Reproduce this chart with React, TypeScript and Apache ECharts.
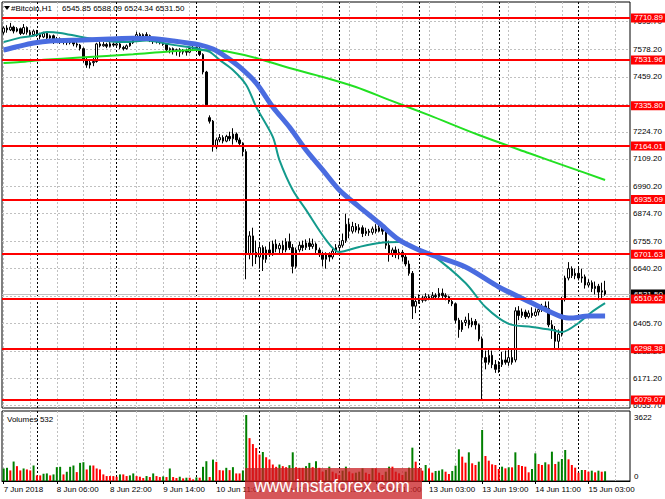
import { useEffect, useRef } from "react";
import * as echarts from "echarts";

// H1 Bitcoin chart in MT4 style: candles + 3 MAs, horizontal levels, volume pane.

const FONT = '"Liberation Sans", Arial, sans-serif';
const FS = 8;

// x labels, one every 16 bars from bar 0
const TICK_LABELS = [
  "7 Jun 2018", "8 Jun 06:00", "8 Jun 22:00", "9 Jun 14:00", "10 Jun 11:00", "11 Jun 03:00",
  "11 Jun 19:00", "12 Jun 11:00", "13 Jun 03:00", "13 Jun 19:00", "14 Jun 11:00", "15 Jun 03:00",
];
const LABEL_STEP = 16;
// bar indexes where a new day starts (black dotted separators)
const DAY_STARTS = [10, 34, 58, 77, 101, 125, 149, 173];
const SLOTS = 189; // bars incl. the empty shift on the right

// [open, close, low, high]
const CANDLES: number[][] = [
  [7650, 7668, 7640, 7675], [7668, 7660, 7648, 7680], [7660, 7672, 7655, 7690], [7672, 7655, 7645, 7678],
  [7655, 7665, 7650, 7672], [7665, 7645, 7638, 7670], [7645, 7670, 7640, 7685], [7670, 7650, 7640, 7675],
  [7650, 7640, 7630, 7660], [7640, 7655, 7635, 7662], [7655, 7640, 7630, 7660], [7640, 7630, 7620, 7648],
  [7630, 7645, 7625, 7652], [7645, 7625, 7615, 7650], [7625, 7635, 7605, 7640], [7635, 7615, 7600, 7640],
  [7615, 7622, 7605, 7630], [7622, 7610, 7600, 7628], [7610, 7618, 7598, 7625], [7618, 7605, 7595, 7622],
  [7605, 7612, 7598, 7620], [7612, 7600, 7590, 7618], [7600, 7595, 7585, 7608], [7595, 7580, 7572, 7600],
  [7580, 7530, 7520, 7585], [7530, 7510, 7498, 7545], [7510, 7520, 7495, 7528], [7520, 7525, 7505, 7540],
  [7525, 7600, 7520, 7605], [7600, 7592, 7585, 7612], [7592, 7598, 7588, 7608], [7598, 7590, 7582, 7605],
  [7590, 7600, 7585, 7608], [7600, 7595, 7588, 7606], [7595, 7600, 7590, 7606], [7600, 7585, 7578, 7605],
  [7585, 7580, 7572, 7592], [7580, 7592, 7576, 7598], [7592, 7605, 7588, 7612], [7605, 7625, 7600, 7632],
  [7625, 7640, 7618, 7652], [7640, 7632, 7625, 7648], [7632, 7640, 7628, 7645], [7640, 7635, 7625, 7650],
  [7635, 7615, 7608, 7640], [7615, 7610, 7600, 7620], [7610, 7612, 7602, 7618], [7612, 7605, 7598, 7616],
  [7605, 7598, 7592, 7610], [7598, 7575, 7568, 7602], [7575, 7580, 7560, 7585], [7580, 7570, 7555, 7585],
  [7570, 7575, 7550, 7580], [7575, 7565, 7545, 7582], [7565, 7572, 7555, 7578], [7572, 7565, 7550, 7580],
  [7565, 7580, 7560, 7588], [7580, 7585, 7575, 7595], [7585, 7578, 7570, 7592], [7578, 7555, 7548, 7590],
  [7555, 7480, 7470, 7560], [7480, 7340, 7335, 7485], [7285, 7270, 7260, 7295], [7270, 7160, 7140, 7275],
  [7160, 7190, 7150, 7200], [7190, 7200, 7180, 7215], [7200, 7185, 7175, 7210], [7185, 7205, 7180, 7212],
  [7205, 7195, 7185, 7225], [7195, 7215, 7170, 7240], [7215, 7190, 7180, 7222], [7190, 7175, 7160, 7200],
  [7175, 7140, 7120, 7180], [7140, 6700, 6595, 7150], [6700, 6780, 6680, 6800], [6780, 6710, 6650, 6815],
  [6710, 6690, 6660, 6760], [6690, 6730, 6640, 6745], [6730, 6680, 6630, 6740], [6680, 6720, 6665, 6735],
  [6720, 6700, 6690, 6755], [6700, 6745, 6695, 6760], [6745, 6725, 6710, 6765], [6725, 6740, 6705, 6750],
  [6740, 6720, 6700, 6760], [6720, 6755, 6710, 6770], [6755, 6730, 6720, 6790], [6730, 6650, 6620, 6745],
  [6650, 6720, 6640, 6730], [6720, 6740, 6710, 6755], [6740, 6730, 6715, 6760], [6730, 6750, 6720, 6765],
  [6750, 6735, 6720, 6770], [6735, 6745, 6725, 6768], [6745, 6720, 6705, 6752], [6720, 6700, 6690, 6730],
  [6700, 6680, 6650, 6712], [6680, 6700, 6640, 6710], [6700, 6690, 6670, 6710], [6690, 6715, 6680, 6725],
  [6715, 6730, 6705, 6745], [6730, 6740, 6720, 6760], [6740, 6760, 6730, 6790], [6760, 6830, 6750, 6875],
  [6830, 6800, 6770, 6855], [6800, 6820, 6790, 6840], [6820, 6805, 6795, 6835], [6805, 6815, 6790, 6830],
  [6815, 6790, 6775, 6825], [6790, 6800, 6780, 6815], [6800, 6795, 6780, 6810], [6795, 6810, 6785, 6820],
  [6810, 6800, 6790, 6830], [6800, 6815, 6795, 6835], [6815, 6800, 6785, 6822], [6800, 6740, 6725, 6805],
  [6740, 6700, 6670, 6760], [6700, 6720, 6690, 6730], [6720, 6700, 6685, 6735], [6700, 6710, 6680, 6725],
  [6710, 6690, 6670, 6720], [6690, 6660, 6650, 6700], [6660, 6620, 6610, 6675], [6620, 6480, 6425, 6630],
  [6480, 6500, 6450, 6520], [6500, 6515, 6490, 6530], [6515, 6505, 6495, 6525], [6505, 6520, 6500, 6535],
  [6520, 6515, 6505, 6530], [6515, 6525, 6510, 6540], [6525, 6520, 6510, 6535], [6520, 6535, 6515, 6557],
  [6535, 6525, 6510, 6555], [6525, 6520, 6505, 6535], [6520, 6500, 6490, 6525], [6500, 6490, 6480, 6510],
  [6490, 6420, 6405, 6495], [6420, 6380, 6345, 6430], [6380, 6410, 6370, 6420], [6410, 6420, 6395, 6435],
  [6420, 6400, 6385, 6450], [6400, 6415, 6390, 6430], [6415, 6400, 6380, 6425], [6400, 6340, 6330, 6405],
  [6340, 6260, 6080, 6350], [6260, 6240, 6210, 6290], [6240, 6270, 6230, 6300], [6270, 6230, 6215, 6290],
  [6230, 6210, 6195, 6250], [6210, 6230, 6195, 6245], [6230, 6250, 6220, 6285], [6250, 6240, 6230, 6290],
  [6240, 6260, 6225, 6305], [6260, 6240, 6230, 6300], [6250, 6460, 6240, 6475], [6460, 6440, 6420, 6480],
  [6440, 6455, 6430, 6470], [6455, 6435, 6425, 6465], [6435, 6450, 6428, 6462], [6450, 6440, 6430, 6475],
  [6440, 6455, 6435, 6470], [6455, 6465, 6440, 6480], [6465, 6480, 6455, 6490], [6480, 6470, 6455, 6500],
  [6470, 6400, 6390, 6500], [6400, 6380, 6340, 6420], [6380, 6330, 6300, 6395], [6330, 6360, 6292, 6380],
  [6360, 6510, 6350, 6520], [6510, 6600, 6500, 6610], [6600, 6640, 6590, 6668], [6640, 6610, 6600, 6650],
  [6610, 6620, 6595, 6640], [6620, 6600, 6590, 6650], [6600, 6605, 6580, 6640], [6605, 6570, 6555, 6615],
  [6570, 6580, 6560, 6595], [6580, 6555, 6540, 6590], [6555, 6565, 6530, 6585], [6565, 6540, 6505, 6575],
  [6540, 6545.85, 6515, 6580], [6545.85, 6531.5, 6524.34, 6588.09],
];

const VOLUMES = [
  688, 724, 580, 1068, 815, 580, 688, 634, 580, 851, 308, 308, 398, 416, 308, 362,
  760, 778, 362, 507, 778, 851, 489, 995, 1032, 634, 851, 851, 688, 634, 362, 272,
  272, 272, 235, 362, 362, 272, 308, 416, 272, 235, 163, 272, 217, 416, 272, 217,
  253, 217, 688, 217, 163, 235, 145, 181, 181, 90, 199, 181, 778, 1086, 217, 1177,
  1050, 597, 580, 724, 597, 760, 416, 416, 580, 3622, 2353, 2027, 1810, 1448, 1593, 1303,
  1177, 905, 778, 905, 815, 760, 869, 1575, 760, 724, 724, 815, 995, 760, 1086, 724,
  512, 604, 787, 512, 421, 329, 567, 787, 512, 421, 457, 512, 695, 457, 384, 695,
  695, 457, 329, 512, 787, 787, 512, 421, 329, 512, 732, 1830, 1061, 695, 567, 878,
  695, 457, 549, 567, 640, 512, 384, 549, 842, 1739, 1336, 1007, 1574, 970, 878, 1061,
  2800, 1373, 1116, 915, 878, 659, 787, 695, 750, 750, 1574, 878, 824, 787, 476, 659,
  1519, 933, 878, 1025, 915, 1610, 933, 1061, 1208, 1702, 1190, 878, 732, 457, 604, 604,
  512, 567, 476, 567, 510, 532,
];

// moving averages: [bar index, price]
const MA_TEAL = [
  [0, 7608], [5, 7627], [9, 7635], [13, 7651], [17, 7647], [23, 7631], [31, 7613], [37, 7608],
  [43, 7615], [51, 7596], [59, 7578], [62, 7566], [65, 7532], [69, 7489], [73, 7425], [76, 7331],
  [81, 7203], [83, 7104], [87, 6976], [91, 6891], [97, 6763], [101, 6711], [107, 6733], [113, 6750],
  [119, 6754], [125, 6720], [129, 6698], [139, 6579], [145, 6476], [152, 6404], [159, 6391],
  [165, 6378], [168, 6369], [173, 6408], [177, 6455], [181, 6493],
];
const MA_BLUE = [
  [0, 7574], [4, 7588], [9, 7604], [14, 7613], [24, 7617], [32, 7621], [39, 7624], [44, 7623],
  [51, 7613], [59, 7596], [63, 7578], [67, 7544], [71, 7502], [76, 7433], [81, 7331], [86, 7245],
  [91, 7147], [96, 7062], [101, 6976], [107, 6904], [113, 6835], [119, 6763], [125, 6720],
  [129, 6698], [139, 6647], [149, 6562], [159, 6493], [168, 6434], [171, 6429], [176, 6438], [181, 6438],
];
const MA_GREEN = [
  [0, 7519], [5, 7523], [12, 7532], [23, 7542], [39, 7556], [49, 7567], [58, 7574], [63, 7573],
  [68, 7566], [76, 7540], [86, 7497], [96, 7459], [106, 7416], [116, 7361], [128, 7296],
  [143, 7211], [158, 7134], [170, 7074], [181, 7019],
];

const LEVELS = [7710.89, 7531.96, 7335.8, 7164.01, 6935.09, 6701.63, 6510.62, 6298.38, 6079.07];
const PRICE_TICKS = [
  7695.7, 7578.2, 7459.2, 7341.2, 7224.7, 7109.2, 6990.2, 6874.7, 6755.7, 6640.2, 6521.7,
  6405.7, 6288.2, 6171.2, 6055.7,
];
const VOLUME_TOP = 3622;

const PRICE_MIN = 6044.8;
const PRICE_MAX = 7779.2;

export default function App() {
  const ref = useRef<HTMLDivElement | null>(null);

  useEffect(() => {
    document.body.style.margin = "0";
    if (!ref.current) return;
    const chart = echarts.init(ref.current, undefined, { renderer: "svg" });

    const cats = Array.from({ length: SLOTS }, (_, i) => String(i));
    const last = CANDLES[CANDLES.length - 1];
    const lastVol = VOLUMES[VOLUMES.length - 1];

    const dash = { color: "#c0c0c0", type: [2, 2] as number[], width: 1 };
    const sep = { color: "#000", type: [2, 2] as number[], width: 1 };
    const vGrid: object[] = [];
    for (let i = 0; i <= SLOTS - 4; i += 8) vGrid.push({ xAxis: i, lineStyle: dash, label: { show: false } });
    const vSep = DAY_STARTS.map((i) => ({ xAxis: i, lineStyle: sep, label: { show: false } }));

    const tickLabel = (v: number) => ({
      show: true,
      position: "end",
      distance: 3,
      formatter: () => v.toFixed(2),
      color: "#000",
      fontSize: FS,
      fontFamily: FONT,
    });

    const hGrid = PRICE_TICKS.map((v) => ({ yAxis: v, lineStyle: dash, label: tickLabel(v) }));
    const current = {
      yAxis: last[1],
      lineStyle: { color: "#c0c0c0", type: "solid", width: 1 },
      label: {
        ...tickLabel(last[1]),
        distance: 1,
        color: "#fff",
        backgroundColor: "#000",
        padding: [1, 3, 0, 3],
      },
    };
    const levels = LEVELS.map((v) => ({
      yAxis: v,
      lineStyle: { color: "#ff0000", type: "solid", width: 2 },
      label: {
        ...tickLabel(v),
        distance: 1,
        color: "#fff",
        backgroundColor: "#ff0000",
        padding: [1, 3, 0, 3],
      },
    }));

    const maLine = (data: number[][], color: string, width: number, z: number) => ({
      type: "line",
      xAxisIndex: 0,
      yAxisIndex: 0,
      data,
      showSymbol: false,
      smooth: 0.3,
      silent: true,
      z,
      lineStyle: { color, width },
    });

    const isLabel = (i: number) => i % LABEL_STEP === 0 && i / LABEL_STEP < TICK_LABELS.length;

    chart.setOption({
      animation: false,
      backgroundColor: "#fff",
      grid: [
        { left: 2, top: 2, width: 628, height: 406, show: true, borderColor: "#000", borderWidth: 1, backgroundColor: "#fff" },
        { left: 2, top: 411, width: 628, height: 70, show: true, borderColor: "#000", borderWidth: 1, backgroundColor: "#fff" },
      ],
      xAxis: [
        { type: "category", gridIndex: 0, data: cats, boundaryGap: true, show: false },
        {
          type: "category",
          gridIndex: 1,
          data: cats,
          boundaryGap: true,
          axisLine: { show: true, lineStyle: { color: "#000", width: 1 } },
          axisTick: {
            show: true,
            alignWithLabel: true,
            length: 3,
            interval: (i: number) => isLabel(i),
            lineStyle: { color: "#000" },
          },
          axisLabel: {
            interval: (i: number) => isLabel(i),
            formatter: (_v: string, i: number) => (isLabel(i) ? TICK_LABELS[i / LABEL_STEP] : ""),
            align: "left",
            margin: 4,
            color: "#000",
            fontSize: FS,
            fontFamily: FONT,
          },
          splitLine: { show: false },
        },
      ],
      yAxis: [
        { type: "value", gridIndex: 0, min: PRICE_MIN, max: PRICE_MAX, show: false, splitLine: { show: false } },
        { type: "value", gridIndex: 1, min: 0, max: 3842, show: false, splitLine: { show: false } },
      ],
      series: [
        {
          type: "line",
          xAxisIndex: 0,
          yAxisIndex: 0,
          data: [],
          silent: true,
          markLine: { z: 1, silent: true, symbol: ["none", "none"], data: [...vGrid, ...vSep, ...hGrid, current] },
        },
        {
          type: "line",
          xAxisIndex: 1,
          yAxisIndex: 1,
          data: [],
          silent: true,
          markLine: { z: 1, silent: true, symbol: ["none", "none"], data: [...vGrid, ...vSep] },
        },
        {
          type: "candlestick",
          xAxisIndex: 0,
          yAxisIndex: 0,
          data: CANDLES,
          barWidth: 2,
          silent: true,
          z: 2,
          itemStyle: { color: "#fff", color0: "#000", borderColor: "#000", borderColor0: "#000", borderWidth: 1 },
        },
        maLine(MA_GREEN, "#22e022", 2, 3),
        maLine(MA_TEAL, "#139a8c", 2, 3),
        maLine(MA_BLUE, "#4a6ce0", 5, 4),
        {
          type: "bar",
          xAxisIndex: 1,
          yAxisIndex: 1,
          data: VOLUMES,
          barWidth: 2,
          silent: true,
          itemStyle: {
            color: (p: { dataIndex: number }) =>
              p.dataIndex === 0 || VOLUMES[p.dataIndex] > VOLUMES[p.dataIndex - 1] ? "#008000" : "#ff0000",
          },
        },
        {
          type: "line",
          xAxisIndex: 0,
          yAxisIndex: 0,
          data: [],
          silent: true,
          markLine: { z: 10, silent: true, symbol: ["none", "none"], data: levels },
        },
      ],
      graphic: [
        { type: "polygon", shape: { points: [[4, 6], [10, 6], [7, 10]] }, style: { fill: "#000" }, z: 20 },
        {
          type: "text",
          x: 11,
          y: 8.5,
          z: 20,
          style: { text: "#Bitcoin,H1", fill: "#000", fontSize: FS, fontFamily: FONT, verticalAlign: "middle" },
        },
        {
          type: "text",
          x: 62,
          y: 8.5,
          z: 20,
          style: {
            text: [last[0], last[3], last[2], last[1]].map((v) => v.toFixed(2)).join(" "),
            fill: "#000",
            fontSize: FS,
            fontFamily: FONT,
            verticalAlign: "middle",
          },
        },
        {
          type: "text",
          x: 7,
          y: 419,
          z: 20,
          style: { text: `Volumes ${lastVol}`, fill: "#000", fontSize: FS, fontFamily: FONT, verticalAlign: "middle" },
        },
        {
          type: "text",
          x: 634,
          y: 417,
          z: 20,
          style: { text: String(VOLUME_TOP), fill: "#000", fontSize: FS, fontFamily: FONT, verticalAlign: "middle" },
        },
        {
          type: "text",
          x: 634,
          y: 476,
          z: 20,
          style: { text: "0", fill: "#000", fontSize: FS, fontFamily: FONT, verticalAlign: "middle" },
        },
        {
          type: "rect",
          shape: { x: 245, y: 468, width: 177, height: 31 },
          style: { fill: "rgba(200, 30, 33, 0.75)" },
          z: 30,
        },
        {
          type: "text",
          x: 332,
          y: 486,
          z: 31,
          style: {
            text: "www.instaforex.com",
            fill: "#fff",
            fontSize: 17.5,
            fontFamily: FONT,
            align: "center",
            verticalAlign: "middle",
          },
        },
      ],
    });

    return () => chart.dispose();
  }, []);

  return <div ref={ref} style={{ width: 665, height: 499 }} />;
}
